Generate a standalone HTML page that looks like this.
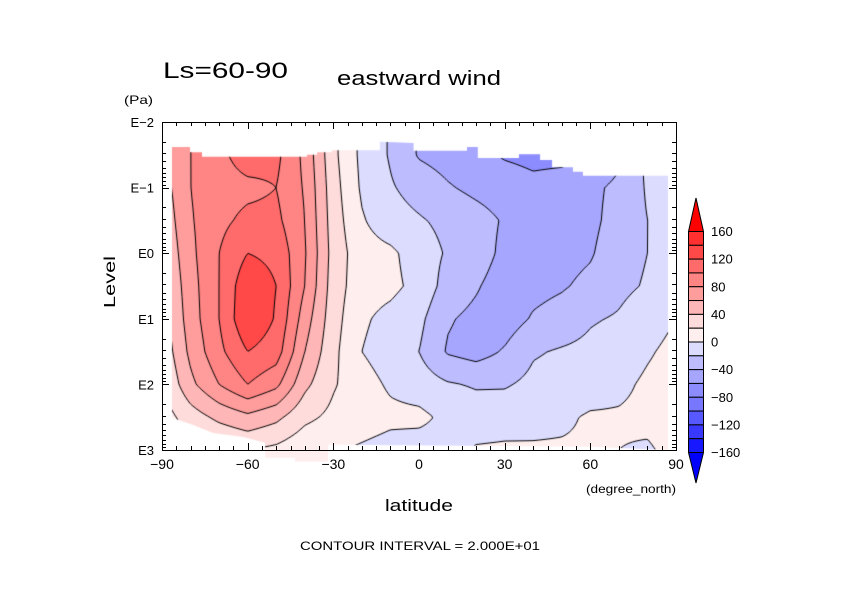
<!DOCTYPE html>
<html><head><meta charset="utf-8"><style>
html,body{margin:0;padding:0;background:#fff;width:842px;height:595px;overflow:hidden}
#wrap{position:relative;width:842px;height:595px}
canvas,svg{position:absolute;left:0;top:0}
text{font-family:"Liberation Sans",sans-serif;fill:#000}
</style></head><body>
<div id="wrap">
<canvas id="field" width="842" height="595"></canvas>
<svg id="ov" width="842" height="595">
<text x="163" y="78" font-size="22" textLength="125" lengthAdjust="spacingAndGlyphs">Ls=60-90</text>
<text x="337" y="85" font-size="20" textLength="164" lengthAdjust="spacingAndGlyphs">eastward wind</text>
<text x="124" y="104" font-size="12" textLength="29" lengthAdjust="spacingAndGlyphs">(Pa)</text>
<text x="0" y="0" font-size="16" textLength="52" lengthAdjust="spacingAndGlyphs" transform="translate(115,308) rotate(-90)">Level</text>
<text x="385" y="511" font-size="17" textLength="68" lengthAdjust="spacingAndGlyphs">latitude</text>
<text x="586" y="493" font-size="12" textLength="90" lengthAdjust="spacingAndGlyphs">(degree_north)</text>
<text x="300" y="550" font-size="12" textLength="240" lengthAdjust="spacingAndGlyphs">CONTOUR INTERVAL = 2.000E+01</text>
<g id="axes"></g>
<g id="cbar"></g>
</svg>
</div>
<script>
// ---- data ----
const lats = [-90,-80,-70,-60,-50,-40,-30,-20,-10,0,10,20,30,40,50,60,70,80,90];
const levels = [-1.5,-1,-0.5,0,0.5,1,1.5,2,2.5,3]; // log10(Pa)
const windM90 = [50,50,45,40,35,30,25,18,10,5];
const windM80 = [80,80,78,75,72,70,65,55,30,10];
const windM70 = [95,92,95,100,100,100,95,80,45,15];
const windM60 = [110,95,105,120,135,138,120,100,55,20];
const windM50 = [105,100,105,115,120,118,110,85,45,15];
const windM40 = [75,78,80,82,80,70,60,45,25,5];
const windM30 = [25,28,30,32,30,28,25,22,15,2];
const windM20 = [-5,-3,2,8,8,3,0,8,10,-3];
const windM10 = [-22,-18,-12,4,5,-6,-10,-3,5,-8];
const wind0 = [-42,-28,-18,-10,-6,-15,-20,-10,5,-10];
const windP10 = [-48,-38,-25,-22,-28,-38,-42,-18,-5,-8];
const windP20 = [-55,-45,-32,-30,-38,-45,-48,-22,-10,2];
const windP30 = [-62,-50,-42,-45,-50,-50,-38,-22,-8,3];
const windP40 = [-65,-55,-48,-48,-46,-38,-22,-15,-5,2];
const windP50 = [-65,-52,-55,-47,-42,-32,-18,-12,-3,2];
const windP60 = [-62,-45,-45,-42,-35,-22,-15,-8,2,2];
const windP70 = [-45,-35,-32,-28,-25,-18,-10,-4,2,0];
const windP80 = [-15,-18,-20,-20,-18,-8,-2,3,4,-2];
const windP90 = [-12,-12,-14,-12,-8,0,5,8,8,5];
const wind = [windM90,windM80,windM70,windM60,windM50,windM40,windM30,windM20,windM10,wind0,
  windP10,windP20,windP30,windP40,windP50,windP60,windP70,windP80,windP90];
const boundLat = [-86.5,-80.2,-80.2,-76,-76,-39.2,-39.2,-35.7,-35.7,-30.5,-30.5,-13.7,-13.7,-1.9,-1.9,16.8,16.8,20.6,20.6,35,35,42.4,42.4,46.6,46.6,53.9,53.9,57.4,57.4,87.2,
  87.2,59.9,-27.7,-31.9,-31.9,-43.4,-43.4,-53.9,-53.9,-61.6,-72.1,-79.1,-86.5];
const boundLev = [-1.62,-1.62,-1.54,-1.54,-1.47,-1.47,-1.5,-1.5,-1.54,-1.54,-1.57,-1.57,-1.7,-1.68,-1.56,-1.56,-1.62,-1.62,-1.45,-1.45,-1.51,-1.51,-1.42,-1.42,-1.31,-1.31,-1.24,-1.24,-1.18,-1.18,
  3.0,2.95,2.92,2.92,3.18,3.18,3.12,3.12,2.89,2.8,2.74,2.62,2.51];
const cbLevels = [160,140,120,100,80,60,40,20,0,-20,-40,-60,-80,-100,-120,-140,-160];
const cbLabels = ["160","120","80","40","0","-40","-80","-120","-160"];
const xTickLabels = ["-90","-60","-30","0","30","60","90"];
const yTickLabels = ["E-2","E-1","E0","E1","E2","E3"];

const X0=162,X1=676,Y0=122,Y1=450;
const xs = lat => X0 + (lat+90)*(X1-X0)/180;
const ys = lp => Y0 + (lp+2)*(Y1-Y0)/5;
const latOf = x => (x-X0)*180/(X1-X0) - 90;
const lpOf = y => (y-Y0)*5/(Y1-Y0) - 2;
const posCols = ["#ffeeee","#ffdcdc","#ffb6b6","#ff9c9c","#ff8484","#ff6a6a","#ff4848","#ff3030"];
const negCols = ["#dcdcff","#bcbcff","#a6a6ff","#8c8cff","#7878ff","#5858ff","#3838ff","#1818ff"];
function colorOf(v){
  if(v>=0){return posCols[Math.min(7,Math.floor(v/20))];}
  return negCols[Math.min(7,Math.floor(-v/20))];
}
function field(lat,lp){
  let fi=(lat-lats[0])/(lats[1]-lats[0]); fi=Math.max(0,Math.min(lats.length-1.0001,fi));
  let fj=(lp-levels[0])/(levels[1]-levels[0]); fj=Math.max(0,Math.min(levels.length-1.0001,fj));
  const i=Math.floor(fi),j=Math.floor(fj),a=fi-i,b=fj-j;
  return (1-a)*(1-b)*wind[i][j]+a*(1-b)*wind[i+1][j]+(1-a)*b*wind[i][j+1]+a*b*wind[i+1][j+1];
}
function hex(c){return [parseInt(c.slice(1,3),16),parseInt(c.slice(3,5),16),parseInt(c.slice(5,7),16)];}

const cv=document.getElementById('field'),ctx=cv.getContext('2d');
const off=document.createElement('canvas');off.width=842;off.height=595;
const octx=off.getContext('2d');const img=octx.createImageData(842,595);
for(let y=Y0;y<470;y++){for(let x=X0;x<=X1;x++){
  const v=field(latOf(x+0.5),lpOf(y+0.5));const c=hex(colorOf(v));const k=(y*842+x)*4;
  img.data[k]=c[0];img.data[k+1]=c[1];img.data[k+2]=c[2];img.data[k+3]=255;}}
octx.putImageData(img,0,0);
ctx.save();ctx.beginPath();
boundLat.forEach((la,i)=>{const px=xs(la),py=ys(boundLev[i]);if(i===0)ctx.moveTo(px,py);else ctx.lineTo(px,py);});
ctx.closePath();ctx.clip();ctx.drawImage(off,0,0);
const S=2;ctx.strokeStyle='#000';ctx.lineWidth=1;ctx.beginPath();
const nx=Math.ceil((X1-X0)/S)+1,ny=Math.ceil((470-Y0)/S)+1;const g=[];
for(let j=0;j<ny;j++){g[j]=[];for(let i=0;i<nx;i++)g[j][i]=field(latOf(X0+i*S),lpOf(Y0+j*S));}
for(let L=-60;L<=140;L+=20){
  for(let j=0;j<ny-1;j++)for(let i=0;i<nx-1;i++){
    const a=g[j][i],b=g[j][i+1],c=g[j+1][i+1],d=g[j+1][i];const pts=[];
    const x=X0+i*S,y=Y0+j*S;
    if((a-L)*(b-L)<0)pts.push([x+S*(L-a)/(b-a),y]);
    if((b-L)*(c-L)<0)pts.push([x+S,y+S*(L-b)/(c-b)]);
    if((d-L)*(c-L)<0)pts.push([x+S*(L-d)/(c-d),y+S]);
    if((a-L)*(d-L)<0)pts.push([x,y+S*(L-a)/(d-a)]);
    for(let p=0;p+1<pts.length;p+=2){ctx.moveTo(pts[p][0],pts[p][1]);ctx.lineTo(pts[p+1][0],pts[p+1][1]);}
  }}
ctx.stroke();ctx.restore();

const NS='http://www.w3.org/2000/svg';
function el(tag,attrs,parent){const e=document.createElementNS(NS,tag);for(const k in attrs)e.setAttribute(k,attrs[k]);parent.appendChild(e);return e;}
const ax=document.getElementById('axes');
const frame=el('rect',{x:X0+0.5,y:Y0+0.5,width:X1-X0,height:Y1-Y0,fill:'none',stroke:'#000','stroke-width':1},ax);


for(let lat=-90;lat<=90;lat+=5){
  const major=lat%30===0,len=major?7:4,px=Math.round(xs(lat))+0.5;
  const t1=el('line',{x1:px,y1:Y1,x2:px,y2:Y1-len,stroke:'#000'},ax);
  
  
  const t2=el('line',{x1:px,y1:Y0,x2:px,y2:Y0+len,stroke:'#000'},ax);
  
  
}
xTickLabels.forEach((s,i)=>{const lat=-90+30*i;
  const t=el('text',{x:xs(lat),y:469,'font-size':14,'text-anchor':'middle'},ax);t.textContent=s.replace('-','\u2212');
  
  });
for(let d=-2;d<=3;d++){for(let m=1;m<=9;m++){
  if(d===3&&m>1)break;const lp=d+Math.log10(m),py=Math.round(ys(lp))+0.5,len=m===1?7:4;
  const t1=el('line',{x1:X0,y1:py,x2:X0+len,y2:py,stroke:'#000'},ax);
  
  
  const t2=el('line',{x1:X1,y1:py,x2:X1-len,y2:py,stroke:'#000'},ax);
  
  
}}
yTickLabels.forEach((s,i)=>{
  const t=el('text',{x:154,y:ys(-2+i)+5,'font-size':13,'text-anchor':'end'},ax);t.textContent=s.replace('-','\u2212');
  
  });

const cb=document.getElementById('cbar');const CX=688,CW=15,CT=231,CB=452;const bh=(CB-CT)/(cbLevels.length-1);
const cy=v=>CT+(cbLevels[0]-v)/(cbLevels[0]-cbLevels[cbLevels.length-1])*(CB-CT);
for(let k=0;k<cbLevels.length-1;k++){
  const r=el('rect',{x:CX+0.5,y:cy(cbLevels[k])+0.5,width:CW,height:bh,fill:colorOf((cbLevels[k]+cbLevels[k+1])/2),stroke:'#000'},cb);
  
  
}
const tipU=el('polygon',{points:`${CX+0.5},${CT+0.5} ${CX+CW+0.5},${CT+0.5} ${CX+CW/2+0.5},198`,fill:'#ff0000',stroke:'#000'},cb);


const tipD=el('polygon',{points:`${CX+0.5},${CB+0.5} ${CX+CW+0.5},${CB+0.5} ${CX+CW/2+0.5},483`,fill:'#0000ff',stroke:'#000'},cb);


cbLabels.forEach(s=>{const v=parseFloat(s);
  const t=el('text',{x:711,y:cy(v)+5,'font-size':13},cb);t.textContent=s.replace('-','\u2212');
  
  });
</script>
</body></html>
